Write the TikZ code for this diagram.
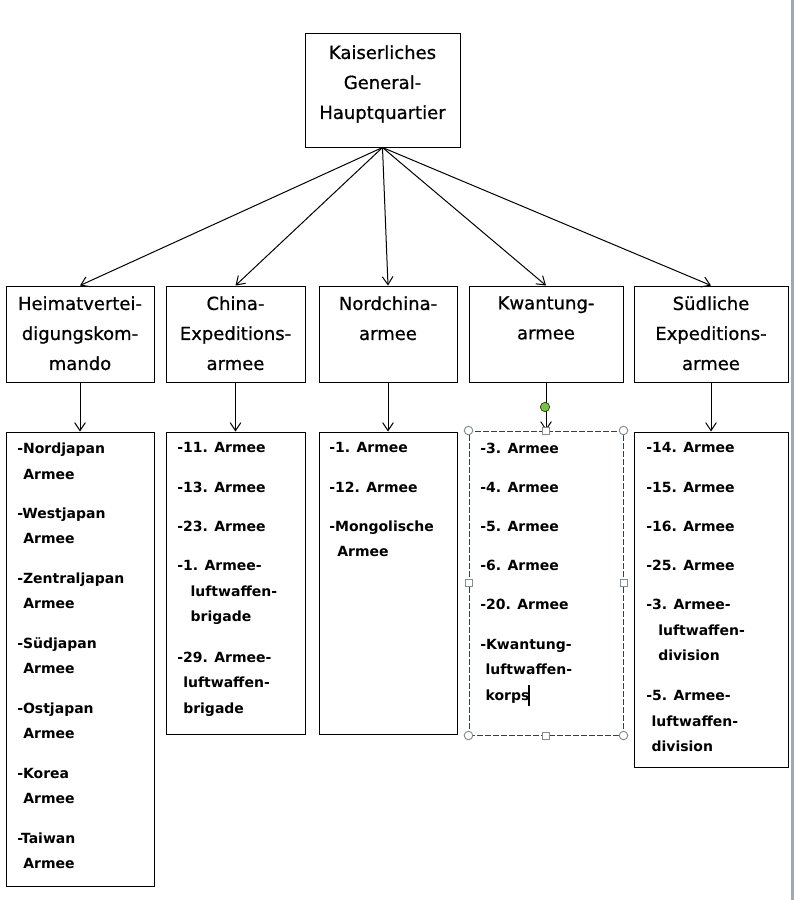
\documentclass[tikz,border=0pt]{standalone}
\usepackage{fontspec}
\setmainfont{DejaVu Sans}
\newfontface\headfont{DejaVu Sans}[FakeBold=0.8]
\usetikzlibrary{arrows.meta}
\definecolor{selframe}{RGB}{50,62,74}
\definecolor{handlegray}{RGB}{130,140,150}
\definecolor{greendot}{RGB}{122,193,66}
\definecolor{bargray}{RGB}{160,168,180}
\begin{document}
\begin{tikzpicture}[x=0.75pt,y=-0.75pt,
  wh/.style 2 args={minimum width={#1*0.75pt},minimum height={#2*0.75pt}},
  box/.style={draw=black,line width=0.75pt,inner sep=0pt,rectangle},
  head/.style={font=\headfont\fontsize{13.5}{22.5}\selectfont,align=center,anchor=north,inner sep=0pt},
  list/.style={font=\bfseries\fontsize{10.5}{19.2}\selectfont,align=left,anchor=north west,inner sep=0pt},
  conn/.style={line width=0.75pt,-{Straight Barb[length=6pt,width=8pt]}},
  selbox/.style={draw=selframe,line width=0.75pt,dash pattern=on 4.5pt off 1.5pt,inner sep=0pt,rectangle}]
\useasboundingbox (0,0) rectangle (794,900);
\fill[bargray] (791,0) rectangle (794,900);

% top
\node[box,wh={155}{114}] (hq) at (382.5,90) {};
\node[head] (hqt) at (382.5,45) {Kaiserliches\\General-\\Hauptquartier};

% level 2
\node[box,wh={148}{96}] (heimat) at (80,334) {};
\node[head] (heimatt) at (80,296) {Heimatvertei-\\digungskom-\\mando};
\node[box,wh={139}{96}] (china) at (235.5,334) {};
\node[head] (chinat) at (235.5,296) {China-\\Expeditions-\\armee};
\node[box,wh={138}{96}] (nord) at (388,334) {};
\node[head] (nordt) at (388,296) {Nordchina-\\armee};
\node[box,wh={154}{96}] (kwan) at (546,334) {};
\node[head] (kwant) at (546,296) {Kwantung-\\armee};
\node[box,wh={154}{96}] (sued) at (711,334) {};
\node[head] (suedt) at (711,296) {Südliche\\Expeditions-\\armee};

% level 3
\node[box,wh={148}{454}] (heimatl) at (80,659) {};
\node[list] (heimatlt) at (17,442.5) {-Nordjapan\\\hspace*{4.5pt}Armee\\[10.3pt]
-Westjapan\\\hspace*{4.5pt}Armee\\[10.3pt]
-Zentraljapan\\\hspace*{4.5pt}Armee\\[10.3pt]
-Südjapan\\\hspace*{4.5pt}Armee\\[10.3pt]
-Ostjapan\\\hspace*{4.5pt}Armee\\[10.3pt]
-Korea\\\hspace*{4.5pt}Armee\\[10.3pt]
-Taiwan\\\hspace*{4.5pt}Armee};

\node[box,wh={139}{302}] (chinal) at (235.5,583) {};
\node[list] (chinalt) at (177,442.5) {-11. Armee\\[10.2pt]
-13. Armee\\[10.2pt]
-23. Armee\\[10.2pt]
-1. Armee-\\\hspace*{10pt}luftwaffen-\\\hspace*{10pt}brigade\\[11pt]
-29. Armee-\\\hspace*{4.5pt}luftwaffen-\\\hspace*{4.5pt}brigade};

\node[box,wh={138}{302}] (nordl) at (388,583) {};
\node[list] (nordlt) at (329,442.5) {-1. Armee\\[10.2pt]
-12. Armee\\[10.2pt]
-Mongolische\\\hspace*{6pt}Armee};

\node[selbox,wh={154}{304}] (kwanl) at (546,583) {};
\node[list] (kwanlt) at (480,442.5) {-3. Armee\\[10.2pt]
-4. Armee\\[10.2pt]
-5. Armee\\[10.2pt]
-6. Armee\\[10.2pt]
-20. Armee\\[10.2pt]
-Kwantung-\\\hspace*{4pt}luftwaffen-\\\hspace*{4pt}korps};

\node[box,wh={154}{335}] (suedl) at (711,599.5) {};
\node[list] (suedlt) at (646,442.5) {-14. Armee\\[10.2pt]
-15. Armee\\[10.2pt]
-16. Armee\\[10.2pt]
-25. Armee\\[10.2pt]
-3. Armee-\\\hspace*{9pt}luftwaffen-\\\hspace*{9pt}division\\[10.6pt]
-5. Armee-\\\hspace*{4pt}luftwaffen-\\\hspace*{4pt}division};

% connectors
\foreach \t in {heimat,china,nord,kwan,sued}
  \draw[conn] (hq.south) -- (\t.north);
\draw[conn] (heimat.south) -- (heimatl.north);
\draw[conn] (china.south) -- (chinal.north);
\draw[conn] (nord.south) -- (nordl.north);
\draw[conn] (kwan.south) -- (kwanl.north);
\draw[conn] (sued.south) -- (suedl.north);

% selection handles of the Kwantung list box
\foreach \a in {north west,north east,south west,south east}
  \draw[handlegray,fill=white,line width=0.7pt] (kwanl.\a) circle (3.2pt);
\foreach \a in {north,south,west,east}
  \draw[handlegray,fill=white,line width=0.7pt] (kwanl.\a) ++(-3.5,-3.5) rectangle ++(7,7);
\draw[black!70!greendot,fill=greendot,line width=0.5pt] (545,407) circle (3.5pt);
\draw[black,line width=0.9pt] (529,685) -- (529,706);
\end{tikzpicture}
\end{document}
